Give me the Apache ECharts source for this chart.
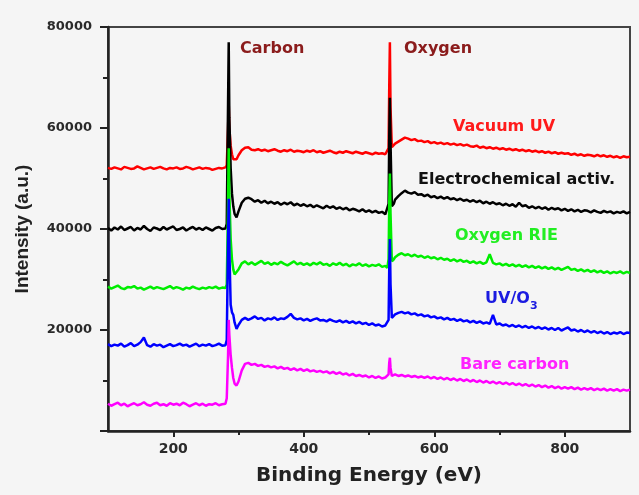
<!DOCTYPE html>
<html><head><meta charset="utf-8">
<script src="https://cdn.jsdelivr.net/npm/echarts@6/dist/echarts.min.js"></script>
<style>html,body{margin:0;padding:0;background:#f5f5f5}#c{width:639px;height:495px}</style>
</head><body><div id="c"></div><script>
const energy = [100,105,110,115,120,125,130,135,140,145,150,155,160,165,170,175,180,185,190,195,200,205,210,215,220,225,230,235,240,245,250,255,260,265,270,275,280,
282,284,285,286,288,290,292,294,297,
300,305,310,315,320,325,330,335,340,345,350,355,360,365,370,375,380,385,390,395,400,405,410,415,420,425,430,435,440,445,450,455,460,465,470,475,480,485,490,495,500,505,510,515,520,525,
528,530,531,532,533,535,538,
540,545,550,555,560,565,570,575,580,585,590,595,600,605,610,615,620,625,630,635,640,645,650,655,660,665,670,675,680,685,690,695,700,705,710,715,720,725,730,735,740,745,750,755,760,765,770,775,780,785,790,795,800,805,810,815,820,825,830,835,840,845,850,855,860,865,870,875,880,885,890,895,900];

const vacuumUV = [52100,51900,52200,52000,51800,52300,52100,51900,52000,52400,52100,51800,52000,52200,51900,52100,52300,52000,51800,52100,52000,52200,51900,52000,52300,52100,51800,52000,52200,51900,52100,52000,51700,51900,52100,52000,52200,
52600,60000,65000,60000,56500,54800,53800,53500,53800,
54600,55600,56100,56200,55700,55600,55800,55500,55700,55400,55600,55800,55500,55300,55600,55400,55700,55300,55500,55400,55200,55500,55300,55600,55200,55400,55100,55300,55500,55200,55000,55300,55100,55400,55200,55000,55300,55100,54900,55200,55000,54800,55100,54900,55000,54800,
54700,56000,68000,77000,64000,56200,56500,
56900,57300,57700,58100,57900,57600,57800,57400,57500,57200,57400,57000,57200,56900,57100,56800,57000,56700,56900,56600,56800,56500,56700,56400,56300,56500,56100,56300,56000,56200,55900,56100,55800,56000,55700,55900,55600,55800,55500,55700,55400,55600,55300,55500,55200,55400,55100,55300,55000,55200,54900,55100,54900,55000,54700,54900,54600,54800,54500,54700,54600,54400,54700,54400,54600,54300,54500,54200,54400,54100,54400,54200,54300];

const electrochem = [40200,39700,40300,39900,40500,39800,40100,40400,39700,40200,39900,40600,40000,39600,40300,40100,39800,40400,39900,40200,40500,39800,40000,40300,39700,40100,40400,39900,40200,39800,40300,40000,39700,40200,40400,40000,40100,
41000,65000,77000,62000,52000,47000,44500,43000,42300,
43500,45200,46000,46200,45900,45400,45700,45200,45600,45100,45400,45000,45300,44800,45200,44900,45300,44700,45000,44600,44900,44500,44800,44300,44700,44400,44100,44600,44200,44500,44000,44300,43900,44200,43700,44000,43800,43500,43900,43400,43700,43300,43600,43200,43400,42900,
42800,45000,58000,66000,57000,44500,45000,
45800,46500,47100,47600,47200,47000,47300,46800,46900,46500,46800,46300,46500,46100,46400,46000,46300,45900,46100,45700,46000,45600,45800,45400,45700,45300,45600,45100,45400,45000,45300,44900,45100,44700,45000,44600,44900,44400,45200,44500,44700,44200,44500,44100,44400,44000,44300,43800,44200,43900,44100,43700,44000,43600,43900,43500,43800,43400,43700,43600,43300,43700,43400,43200,43600,43300,43500,43100,43400,43200,43500,43100,43400];

const oxygenRIE = [28600,28200,28500,28800,28300,28100,28500,28400,28700,28200,28400,28000,28300,28600,28200,28500,28300,28100,28400,28700,28200,28500,28300,28000,28400,28200,28600,28300,28100,28400,28200,28500,28300,28600,28200,28400,28300,
29000,45000,56000,47000,38000,34000,32000,31000,30800,
32000,33200,33600,33000,33400,32900,33300,33700,33100,33400,32900,33300,33000,33500,33100,32800,33200,33600,33000,33300,32900,33200,32800,33300,33000,33400,32900,33100,32700,33200,32900,33300,32800,33100,32600,33000,32800,33200,32700,33000,32600,32900,32700,33000,32500,32700,
32300,34000,45000,51000,43000,33600,34000,
34400,34900,35200,34800,35000,34600,34900,34500,34700,34300,34600,34200,34400,34000,34300,33900,34100,33700,34000,33600,33900,33500,33700,33300,33600,33200,33500,33100,33400,35000,33300,33000,33200,32800,33100,32700,33000,32600,32900,32500,32800,32400,32700,32300,32600,32200,32500,32100,32400,32000,32300,31900,32200,32500,31900,32100,31700,32000,31600,31900,31500,31800,31400,31700,31300,31600,31200,31500,31300,31600,31200,31500,31300];

const uvOzone = [17200,16800,17100,16900,17300,16700,17000,17400,16800,17100,17600,18500,17000,16700,17200,16900,17100,16600,16900,17200,16800,17000,17300,16900,17100,16700,17000,17300,16800,17100,16900,17200,16800,17000,17300,16900,17000,
18000,38000,46000,36000,25000,23500,23000,21500,20200,
21000,22000,22400,22000,22300,22700,22200,22400,21900,22300,22100,22500,22000,22300,22200,22600,23200,22400,22100,22300,21900,22200,21800,22100,22300,21900,22000,21700,22100,21800,21600,21900,21500,21800,21400,21700,21300,21600,21200,21400,21000,21300,20900,21100,20700,20900,
20600,22000,32000,38000,29000,22400,22700,
23100,23400,23600,23300,23500,23100,23300,22900,23100,22700,22900,22500,22700,22300,22500,22100,22400,22000,22200,21800,22100,21700,21900,21500,21800,21400,21700,21300,21500,21200,23000,21100,21300,20900,21100,20700,21000,20600,20900,20500,20800,20400,20700,20300,20600,20200,20500,20100,20400,20000,20400,19900,20200,20500,19900,20100,19700,20000,19600,19900,19500,19800,19400,19700,19300,19600,19200,19500,19300,19600,19200,19500,19400];

const bareCarbon = [5400,5000,5300,5600,5100,5400,4900,5200,5500,5100,5300,5700,5200,5000,5400,5600,5100,5300,5000,5500,5200,5400,5100,5600,5300,4900,5200,5500,5100,5400,5000,5300,5200,5500,5100,5300,5400,
6500,15000,22000,19000,15000,12500,10500,9400,9000,
9800,12000,13300,13500,13100,13300,12900,13100,12700,12900,12600,12800,12400,12700,12300,12500,12100,12400,12000,12300,11900,12200,11800,12000,11700,11900,11600,11800,11400,11700,11300,11600,11200,11400,11000,11300,10900,11100,10800,11000,10600,10900,10500,10800,10400,10600,
10400,11200,13500,14500,12500,10900,11000,
11200,10900,11100,10800,11000,10700,10900,10600,10800,10500,10800,10400,10700,10300,10600,10200,10500,10100,10400,10000,10300,9900,10200,9800,10100,9700,10000,9600,9900,9500,9800,9400,9700,9300,9600,9200,9500,9100,9400,9000,9300,8900,9200,8800,9100,8700,9000,8600,8900,8500,8800,8400,8700,8400,8700,8300,8600,8200,8500,8200,8500,8100,8400,8100,8400,8000,8300,8000,8300,7900,8200,8000,8200];

const seriesNames = ['Vacuum UV','Electrochemical activ.','Oxygen RIE','UV/O3','Bare carbon'];
const seriesValues = [vacuumUV, electrochem, oxygenRIE, uvOzone, bareCarbon];
const seriesColors = ['#ff0000','#000000','#00ee00','#0000ff','#ff00ff'];
const xTickValues = [200,400,600,800];
const xMinorTickValues = [300,500,700];

const chart = echarts.init(document.getElementById('c'), null, {renderer:'canvas'});
const tickFont = {fontFamily:'DejaVu Sans', fontWeight:'bold', color:'#2a2a2a'};
const annot = (text, x, y, color, size) => ({type:'text', left:x, top:y-(size||16)*0.6, silent:true,
  style:{text:text, fill:color, font:'bold '+(size||16)+'px "DejaVu Sans"'}});

chart.setOption({
  backgroundColor:'#f5f5f5',
  animation:false,
  grid:{left:108, right:9, top:27, bottom:64, show:true, borderColor:'#444', borderWidth:2, backgroundColor:'transparent'},
  xAxis:[{
    type:'value', min:100, max:900, position:'bottom',
    name:'Binding Energy (eV)', nameLocation:'middle', nameGap:35,
    nameTextStyle:{fontFamily:'DejaVu Sans', fontWeight:'bold', fontSize:20, color:'#222'},
    axisLine:{show:true, onZero:false, lineStyle:{color:'#222', width:2.5}},
    axisTick:{show:true, length:6, lineStyle:{color:'#222', width:2}, customValues:xTickValues},
    axisLabel:Object.assign({fontSize:14, margin:11, customValues:xTickValues}, tickFont),
    splitLine:{show:false}
  },{
    type:'value', min:100, max:900, position:'bottom',
    axisLine:{show:false},
    axisTick:{show:true, length:4, lineStyle:{color:'#222', width:2}, customValues:xMinorTickValues},
    axisLabel:{show:false},
    splitLine:{show:false}
  }],
  yAxis:{
    type:'value', min:0, max:80000, interval:20000,
    name:'Intensity (a.u.)', nameLocation:'middle', nameGap:76,
    nameTextStyle:{fontFamily:'Liberation Sans', fontWeight:'bold', fontSize:19, color:'#222'},
    axisLine:{show:true, lineStyle:{color:'#222', width:2.5}},
    axisTick:{show:true, length:8, lineStyle:{color:'#222', width:2}},
    minorTick:{show:true, splitNumber:2, length:5, lineStyle:{color:'#222', width:2}},
    axisLabel:Object.assign({fontSize:13, margin:16, showMinLabel:false, formatter:(v)=>String(v)}, tickFont),
    splitLine:{show:false}
  },
  series: seriesNames.map((n,i)=>({
    name:n, type:'line', showSymbol:false, symbol:'none', smooth:false,
    data: energy.map((e,k)=>[e, seriesValues[i][k]]),
    lineStyle:{color:seriesColors[i], width:2.5}, itemStyle:{color:seriesColors[i]}
  })),
  graphic:[
    annot('Carbon', 240, 50, '#8b1c1c'),
    annot('Oxygen', 404, 50, '#8b1c1c'),
    annot('Vacuum UV', 453, 128, '#ff1a1a'),
    annot('Electrochemical activ.', 418, 181, '#111111'),
    annot('Oxygen RIE', 455, 237, '#22ee22'),
    annot('UV/O', 485, 300, '#1a1ae0'),
    annot('3', 530, 307, '#1a1ae0', 11),
    annot('Bare carbon', 460, 366, '#ff22ff')
  ]
});
</script></body></html>
